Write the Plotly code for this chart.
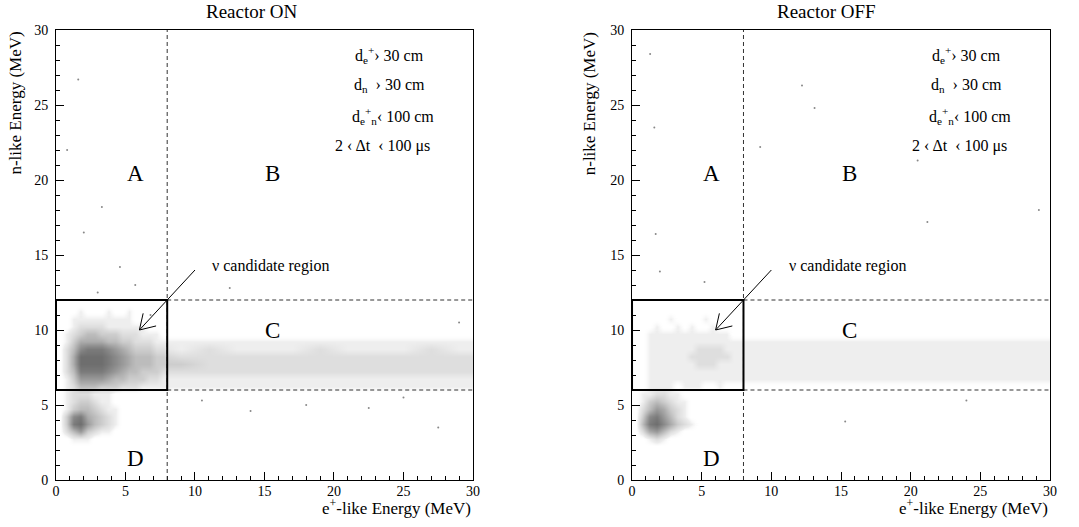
import plotly.graph_objects as go

# ---------------- data ----------------
panel_titles = ["Reactor ON", "Reactor OFF"]
x_ticks = [0, 5, 10, 15, 20, 25, 30]
y_ticks = [0, 5, 10, 15, 20, 25, 30]

# cut values defining the regions
cut_e = 8.0
cut_n_lo = 6.0
cut_n_hi = 12.0

# density bins (MeV): fine 0.5 MeV bins for e+ < 8, 2 MeV bins above
x_edges = [0.0, 0.5, 1.0, 1.5, 2.0, 2.5, 3.0, 3.5, 4.0, 4.5, 5.0, 5.5, 6.0, 6.5, 7.0, 7.5, 8.0,
           10.0, 12.0, 14.0, 16.0, 18.0, 20.0, 22.0, 24.0, 26.0, 28.0, 30.0]
y_edges = [2.0, 2.5, 3.0, 3.5, 4.0, 4.5, 5.0, 5.5, 6.0, 6.5, 7.0, 7.5, 8.0, 8.5, 9.0, 9.5,
           10.0, 10.5, 11.0, 11.5, 12.0]

# estimated event density (0 = empty ... 9 = densest), rows from y=11.75 down to y=2.25
density_on = [
    "0000000000000000 00000000000",
    "0001000100100000 00000000000",
    "0011111111100000 00000000000",
    "0012222111111000 00000000000",
    "0123443332221110 00000000000",
    "0135555443322211 11111111111",
    "0247888765433322 12111211121",
    "0259999876544433 22222222222",
    "0259999876544433 32222222222",
    "0248888765443332 22222222222",
    "0136666544333221 11111111111",
    "0124443332221111 11111111111",
    "0122211100000000 00000000000",
    "0123321100000000 00000000000",
    "0134432110000000 00000000000",
    "0378543210000000 00000000000",
    "0389643210000000 00000000000",
    "0246321100000000 00000000000",
    "0011100000000000 00000000000",
    "0000000000000000 00000000000",
]
density_off = [
    "0000000000000000 00000000000",
    "0000000000000000 00000000000",
    "0000010000100000 00000000000",
    "0001001010010000 00000000000",
    "0011111111111100 00000000000",
    "0011111111111111 11111111111",
    "0011111112222111 11111111111",
    "0011111122222211 11111111111",
    "0011111112221111 11111111111",
    "0011111111111111 11111111111",
    "0011111111111111 11111111111",
    "0011110111001000 00000000000",
    "0112211000000000 00000000000",
    "0134321100000000 00000000000",
    "0246532100000000 00000000000",
    "0378642100000000 00000000000",
    "0489753210000000 00000000000",
    "0256421000000000 00000000000",
    "0012100000000000 00000000000",
    "0000000000000000 00000000000",
]

# isolated events outside the dense regions
sparse_on_x = [1.6, 0.8, 3.3, 2.0, 5.7, 12.5, 18.0, 22.5, 27.5, 14.0, 10.5, 25.0, 3.0, 6.8, 29.0, 4.6]
sparse_on_y = [26.7, 22.0, 18.2, 16.5, 13.0, 12.8, 5.0, 4.8, 3.5, 4.6, 5.3, 5.5, 12.5, 11.0, 10.5, 14.2]
sparse_off_x = [1.3, 12.2, 13.1, 1.6, 9.2, 20.5, 29.2, 21.2, 1.7, 2.0, 15.3, 5.2, 24.0]
sparse_off_y = [28.4, 26.3, 24.8, 23.5, 22.2, 21.3, 18.0, 17.2, 16.4, 13.9, 3.9, 13.2, 5.3]

cut_lines = [
    ("d<sub>e</sub><sup>+</sup>› 30 cm", 24.0, 28.33),
    ("d<sub>n</sub>  › 30 cm", 24.0, 26.27),
    ("d<sub>e</sub><sup>+</sup><sub>n</sub>‹ 100 cm", 24.25, 24.29),
    ("2 ‹ Δt  ‹ 100 μs", 23.5, 22.29),
]
region_labels = [("A", 5.7, 20.45), ("B", 15.6, 20.45), ("C", 15.6, 10.0), ("D", 5.7, 1.45)]
arrow_from = (10.0, 14.0)
arrow_to = (6.0, 10.0)

# ---------------- figure ----------------
FONT = "Liberation Serif"
grey_levels = ["rgba(255,255,255,0)", "#eeeeee", "#dedede", "#cdcdcd", "#bcbcbc",
               "#ababab", "#9a9a9a", "#8a8a8a", "#7b7b7b", "#6e6e6e"]
colorscale = [[i / 9, c] for i, c in enumerate(grey_levels)]


def parse(rows):
    z = [[int(ch) for ch in r.replace(" ", "")] for r in rows]
    return z[::-1]


fig = go.Figure()
axes = [("x", "y"), ("x2", "y2")]
dens = [density_on, density_off]
sp = [(sparse_on_x, sparse_on_y), (sparse_off_x, sparse_off_y)]

for i, (xa, ya) in enumerate(axes):
    fig.add_trace(go.Heatmap(
        x=x_edges, y=y_edges, z=parse(dens[i]), zmin=0, zmax=9,
        colorscale=colorscale, showscale=False, zsmooth="best",
        hoverinfo="skip", xaxis=xa, yaxis=ya))
    fig.add_trace(go.Scatter(
        x=sp[i][0], y=sp[i][1], mode="markers",
        marker=dict(size=2, color="#888888"), showlegend=False,
        hoverinfo="skip", xaxis=xa, yaxis=ya))

axis_common = dict(range=[0, 30], tickvals=x_ticks, ticks="inside", ticklen=8,
                   tickcolor="black", showline=True, linecolor="black", linewidth=1,
                   mirror=True, showgrid=False, zeroline=False,
                   tickfont=dict(family=FONT, size=14, color="black"),
                   minor=dict(ticks="inside", ticklen=4, dtick=1, tickcolor="black", showgrid=False))

fig.update_layout(
    width=1079, height=527,
    margin=dict(l=56, r=29, t=30, b=47),
    paper_bgcolor="white", plot_bgcolor="white",
    showlegend=False,
    xaxis=dict(domain=[0, 0.4195], anchor="y", ticklabelstandoff=-2, **axis_common),
    xaxis2=dict(domain=[0.5795, 1.0], anchor="y2", ticklabelstandoff=-2, **axis_common),
    yaxis=dict(domain=[0, 1], anchor="x", ticklabelstandoff=4, **axis_common),
    yaxis2=dict(domain=[0, 1], anchor="x2", ticklabelstandoff=4, **axis_common),
)

shapes = []
annotations = []
ytitle_x = [-0.0412, 0.537]
title_x = [14.1, 13.95]
for i, (xa, ya) in enumerate(axes):
    dash_style = dict(color="#333333", width=1, dash="4px,3px")
    shapes.append(dict(type="line", xref=xa, yref=ya, x0=cut_e, x1=cut_e, y0=0, y1=30, line=dash_style))
    shapes.append(dict(type="line", xref=xa, yref=ya, x0=cut_e, x1=30, y0=cut_n_hi, y1=cut_n_hi, line=dash_style))
    shapes.append(dict(type="line", xref=xa, yref=ya, x0=cut_e, x1=30, y0=cut_n_lo, y1=cut_n_lo, line=dash_style))
    shapes.append(dict(type="rect", xref=xa, yref=ya, x0=0, x1=cut_e, y0=cut_n_lo, y1=cut_n_hi,
                       line=dict(color="black", width=2)))
    # arrow: shaft and open head
    arr = dict(color="black", width=1)
    shapes.append(dict(type="line", xref=xa, yref=ya, x0=arrow_from[0], y0=arrow_from[1],
                       x1=arrow_to[0], y1=arrow_to[1], line=arr))
    shapes.append(dict(type="line", xref=xa, yref=ya, x0=arrow_to[0], y0=arrow_to[1],
                       x1=arrow_to[0] + 1.2, y1=arrow_to[1] + 0.27, line=arr))
    shapes.append(dict(type="line", xref=xa, yref=ya, x0=arrow_to[0], y0=arrow_to[1],
                       x1=arrow_to[0] + 0.27, y1=arrow_to[1] + 1.11, line=arr))

    annotations.append(dict(text=panel_titles[i], xref=xa, yref="paper", x=title_x[i], y=1.042,
                            xanchor="center", yanchor="middle", showarrow=False,
                            font=dict(family=FONT, size=19, color="black")))
    annotations.append(dict(text="n-like Energy (MeV)", xref="paper", yref="paper",
                            x=ytitle_x[i], y=1.0, xanchor="center", yanchor="top", textangle=-90,
                            showarrow=False, font=dict(family=FONT, size=17, color="black")))
    annotations.append(dict(text="e<sup>+</sup>-like Energy (MeV)", xref=xa, yref="paper",
                            x=30, y=-0.06, xanchor="right", yanchor="middle", showarrow=False,
                            font=dict(family=FONT, size=17, color="black")))
    for txt, tx, ty in cut_lines:
        annotations.append(dict(text=txt, xref=xa, yref=ya, x=tx, y=ty, xanchor="center",
                                yanchor="middle", showarrow=False,
                                font=dict(family=FONT, size=16, color="black")))
    for txt, tx, ty in region_labels:
        annotations.append(dict(text=txt, xref=xa, yref=ya, x=tx, y=ty, xanchor="center",
                                yanchor="middle", showarrow=False,
                                font=dict(family=FONT, size=23, color="black")))
    annotations.append(dict(text="ν candidate region", xref=xa, yref=ya, x=11.1, y=14.3,
                            xanchor="left", yanchor="middle", showarrow=False,
                            font=dict(family=FONT, size=16, color="black")))

fig.update_layout(shapes=shapes, annotations=annotations)
# remove the default 8px page margin so the figure sits at the window's corner
fig.write_html("out.html", config={"displayModeBar": False},
               post_script="document.body.style.margin='0';")
